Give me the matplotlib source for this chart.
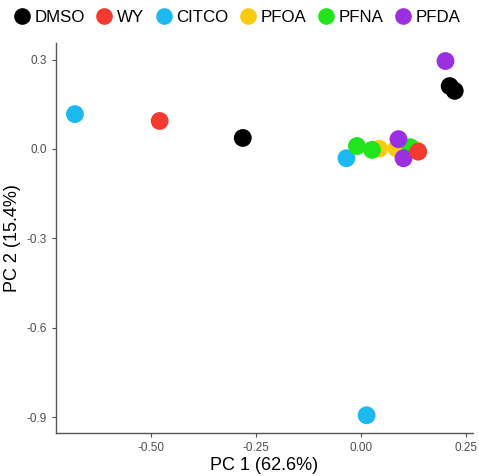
import matplotlib.pyplot as plt
from matplotlib.lines import Line2D

plt.rcParams['font.family'] = ['Liberation Sans', 'DejaVu Sans']

groups = ['DMSO', 'WY', 'CITCO', 'PFOA', 'PFNA', 'PFDA']
colors = ['#000000', '#F23A30', '#1CB9F0', '#F8CB10', '#22E41E', '#9B30E0']

pc1 = {
    'DMSO': [-0.281, 0.212, 0.224],
    'WY': [-0.479, 0.137],
    'CITCO': [-0.681, -0.034, 0.014],
    'PFOA': [0.044, 0.085, 0.133],
    'PFNA': [-0.009, 0.027, 0.118],
    'PFDA': [0.202, 0.090, 0.102],
}
pc2 = {
    'DMSO': [0.037, 0.211, 0.195],
    'WY': [0.094, -0.009],
    'CITCO': [0.117, -0.031, -0.893],
    'PFOA': [0.001, 0.002, -0.003],
    'PFNA': [0.010, -0.003, 0.006],
    'PFDA': [0.295, 0.033, -0.031],
}

fig = plt.figure(figsize=(4.79, 4.76), dpi=100)
ax = fig.add_axes([0.117, 0.090, 0.870, 0.820])

order = ['DMSO', 'CITCO', 'PFOA', 'PFNA', 'PFDA', 'WY']
for g in order:
    c = colors[groups.index(g)]
    ax.scatter(pc1[g], pc2[g], s=165, color=c, edgecolors='none', zorder=3)

ax.set_xlim(-0.726, 0.267)
ax.set_ylim(-0.953, 0.356)
ax.set_xticks([-0.50, -0.25, 0.00, 0.25])
ax.set_xticklabels(['-0.50', '-0.25', '0.00', '0.25'])
ax.set_yticks([0.3, 0.0, -0.3, -0.6, -0.9])
ax.set_yticklabels(['0.3', '0.0', '-0.3', '-0.6', '-0.9'])
ax.tick_params(colors='#4d4d4d', labelsize=8.5, length=3, width=0.8)
for s in ['top', 'right']:
    ax.spines[s].set_visible(False)
for s in ['left', 'bottom']:
    ax.spines[s].set_color('#555555')
    ax.spines[s].set_linewidth(1.0)

ax.set_xlabel('PC 1 (62.6%)', fontsize=13, labelpad=2)
ax.set_ylabel('PC 2 (15.4%)', fontsize=13, labelpad=4)

handles = [Line2D([], [], marker='o', linestyle='none', markersize=12,
                  markerfacecolor=c, markeredgecolor='none') for c in colors]
fig.legend(handles, groups, loc='upper center', bbox_to_anchor=(0.49, 1.012),
           ncol=6, frameon=False, fontsize=12.2, handletextpad=0.0,
           columnspacing=0.4, handlelength=1.5)

fig.savefig('out.png', dpi=100)
